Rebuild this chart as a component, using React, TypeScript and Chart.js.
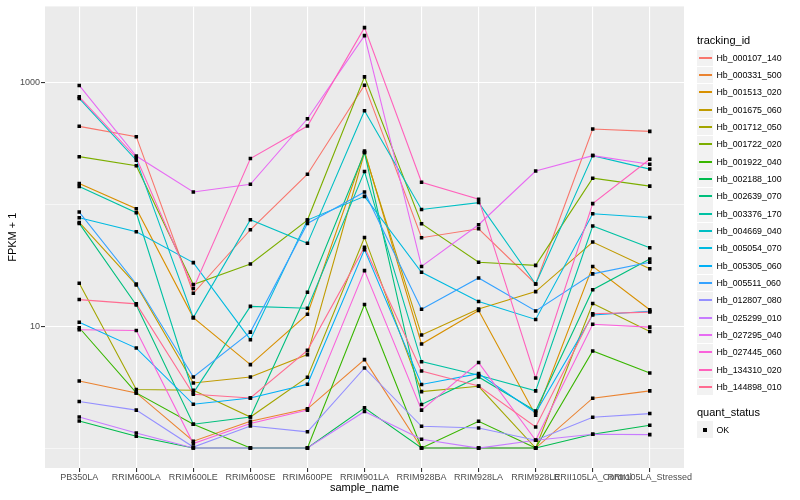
import React, { useEffect, useRef } from "react";
import { Chart, registerables } from "chart.js";

Chart.register(...registerables);

const FONT = '"Liberation Sans", Arial, Helvetica, sans-serif';

const categories = [
  "PB350LA", "RRIM600LA", "RRIM600LE", "RRIM600SE", "RRIM600PE", "RRIM901LA",
  "RRIM928BA", "RRIM928LA", "RRIM928LE", "RRII105LA_Control", "RRII105LA_Stressed",
];

const trackingIds = [
  "Hb_000107_140", "Hb_000331_500", "Hb_001513_020", "Hb_001675_060", "Hb_001712_050",
  "Hb_001722_020", "Hb_001922_040", "Hb_002188_100", "Hb_002639_070", "Hb_003376_170",
  "Hb_004669_040", "Hb_005054_070", "Hb_005305_060", "Hb_005511_060", "Hb_012807_080",
  "Hb_025299_010", "Hb_027295_040", "Hb_027445_060", "Hb_134310_020", "Hb_144898_010",
];

const seriesColors = [
  "#F8766D", "#EA8331", "#D89000", "#C09B00", "#A3A500",
  "#7CAE00", "#39B600", "#00BB4E", "#00BF7D", "#00C1A3",
  "#00BFC4", "#00BAE0", "#00B0F6", "#35A2FF", "#9590FF",
  "#C77CFF", "#E76BF3", "#FA62DB", "#FF62BC", "#FF6C91",
];

// FPKM + 1 values, one per sample_name
const hb_000107_140 = [440, 362, 18.7, 62.2, 178, 959, 53.5, 63.4, 22.3, 418, 400];
const hb_000331_500 = [3.56, 2.84, 1.14, 1.66, 2.1, 5.33, 1, 1, 1, 2.57, 2.95];
const hb_001513_020 = [149, 92.5, 11.8, 4.85, 12.6, 276, 7.15, 13.5, 1.86, 31.1, 13.7];
const hb_001675_060 = [71.4, 21.9, 3.43, 3.84, 5.86, 268, 8.48, 13.9, 19.3, 49.3, 29.8];
const hb_001712_050 = [22.6, 3.03, 2.99, 1.8, 3.82, 53.8, 2.91, 3.22, 1, 15.4, 9.09];
const hb_001722_020 = [248, 209, 22.1, 32.6, 74.7, 1122, 69.7, 33.6, 31.7, 165, 142];
const hb_001922_040 = [9.74, 2.84, 1.57, 1, 1, 15.1, 1, 1.66, 1, 6.27, 4.14];
const hb_002188_100 = [1.67, 1.25, 1, 1, 1, 2.14, 1, 1, 1, 1.3, 1.54];
const hb_002639_070 = [70.1, 15.0, 1.57, 1.8, 19.1, 268, 2.28, 3.84, 2.02, 20.0, 35.8];
const hb_003376_170 = [141, 85.8, 2.84, 14.6, 14.1, 187, 5.13, 3.96, 2.95, 66.7, 44.3];
const hb_004669_040 = [746, 232, 11.8, 75.2, 48.1, 591, 91.3, 104, 22.3, 253, 196];
const hb_005054_070 = [78.0, 60.0, 33.4, 7.77, 74.7, 117, 27.8, 16.0, 11.4, 84.2, 78.5];
const hb_005305_060 = [10.8, 6.63, 2.29, 2.58, 3.34, 42.7, 3.33, 4.09, 1.95, 12.4, 13.3];
const hb_005511_060 = [86.9, 22.3, 3.84, 8.97, 70.1, 127, 13.8, 25.0, 13.4, 27.0, 33.6];
const hb_012807_080 = [2.41, 2.05, 1.02, 1.52, 1.36, 4.55, 1.51, 1.46, 1.16, 1.79, 1.92];
const hb_025299_010 = [1.8, 1.33, 1, 1, 1, 2.0, 1.18, 1, 1.16, 1.3, 1.29];
const hb_027295_040 = [954, 251, 127, 147, 508, 2449, 31.1, 68.4, 189, 253, 215];
const hb_027445_060 = [9.38, 9.26, 1.09, 1.59, 2.05, 28.7, 2.05, 5.04, 1.16, 10.4, 9.86];
const hb_134310_020 = [769, 243, 20.5, 239, 443, 2849, 153, 111, 3.77, 102, 236];
const hb_144898_010 = [16.6, 15.3, 2.77, 2.58, 6.35, 44.6, 4.3, 3.24, 1.49, 12.7, 13.1];

const seriesValues = [
  hb_000107_140, hb_000331_500, hb_001513_020, hb_001675_060, hb_001712_050,
  hb_001722_020, hb_001922_040, hb_002188_100, hb_002639_070, hb_003376_170,
  hb_004669_040, hb_005054_070, hb_005305_060, hb_005511_060, hb_012807_080,
  hb_025299_010, hb_027295_040, hb_027445_060, hb_134310_020, hb_144898_010,
];

const yTickValues = [1, 10, 100, 1000];
const yTickLabels = ["", "10", "", "1000"];
const yMajor = [false, true, false, true];

const panelBg = {
  id: "panelBg",
  beforeDraw(chart: any) {
    const { ctx, chartArea } = chart;
    ctx.save();
    ctx.fillStyle = "#EBEBEB";
    ctx.fillRect(chartArea.left, chartArea.top, chartArea.right - chartArea.left, chartArea.bottom - chartArea.top);
    ctx.restore();
  },
};

function Legend() {
  const rowH = 17.33;
  const first = 57.7;
  const okY = 429.5;
  return (
    <>
      <div style={{ position: "absolute", left: 697, top: 33, height: 15, lineHeight: "15px", fontSize: 11, fontFamily: FONT, color: "#000", whiteSpace: "nowrap" }}>tracking_id</div>
      {trackingIds.map((id, i) => {
        const cy = first + i * rowH;
        return (
          <React.Fragment key={id}>
            <div style={{ position: "absolute", left: 697, top: cy - 8.2, width: 16.4, height: 16.4, background: "#F2F2F2" }} />
            <div style={{ position: "absolute", left: 699, top: Math.round(cy) - 1, width: 13, height: 1.6, background: seriesColors[i] }} />
            <div style={{ position: "absolute", left: 716.5, top: cy - 6, height: 12, lineHeight: "12px", fontSize: 8.8, fontFamily: FONT, color: "#000", whiteSpace: "nowrap" }}>{id}</div>
          </React.Fragment>
        );
      })}
      <div style={{ position: "absolute", left: 697, top: 404.5, height: 15, lineHeight: "15px", fontSize: 11, fontFamily: FONT, color: "#000", whiteSpace: "nowrap" }}>quant_status</div>
      <div style={{ position: "absolute", left: 697, top: okY - 8.2, width: 16.4, height: 16.4, background: "#F2F2F2" }} />
      <div style={{ position: "absolute", left: 703, top: 428, width: 4, height: 4, background: "#000" }} />
      <div style={{ position: "absolute", left: 716.5, top: okY - 6, height: 12, lineHeight: "12px", fontSize: 8.8, fontFamily: FONT, color: "#000", whiteSpace: "nowrap" }}>OK</div>
    </>
  );
}

export default function App() {
  const canvasRef = useRef<HTMLCanvasElement | null>(null);

  useEffect(() => {
    if (!canvasRef.current) return;
    const lineSets = seriesValues.map((vals, i) => ({
      type: "line" as const,
      label: trackingIds[i],
      data: vals.map((v, j) => ({ x: j, y: v })),
      borderColor: seriesColors[i],
      backgroundColor: seriesColors[i],
      borderWidth: 1.1,
      pointRadius: 0,
      fill: false,
      tension: 0,
      order: 100 - i,
    }));
    const pointSets = seriesValues.map((vals, i) => ({
      type: "line" as const,
      label: trackingIds[i] + " OK",
      data: vals.map((v, j) => ({ x: j, y: v })),
      showLine: false,
      pointStyle: "rect",
      pointRadius: 2.5,
      pointBorderWidth: 0,
      pointBackgroundColor: "#000000",
      pointBorderColor: "#000000",
      order: 0,
    }));

    const chart = new Chart(canvasRef.current, {
      type: "line",
      data: { datasets: [...lineSets, ...pointSets] as any },
      plugins: [panelBg],
      options: {
        animation: false,
        responsive: false,
        maintainAspectRatio: false,
        layout: { padding: { left: 0, right: 116, top: 5, bottom: 0 } },
        plugins: { legend: { display: false }, tooltip: { enabled: false } },
        scales: {
          x: {
            type: "linear",
            min: -0.6,
            max: 10.6,
            afterBuildTicks: (s: any) => {
              s.ticks = categories.map((_, i) => ({ value: i }));
            },
            afterFit: (s: any) => {
              s.height = 32;
            },
            ticks: {
              autoSkip: false,
              maxRotation: 0,
              minRotation: 0,
              padding: 0,
              color: "#4D4D4D",
              font: { size: 9, family: FONT },
              callback: (v: any) => categories[Math.round(Number(v))] ?? "",
            },
            grid: {
              color: "#FFFFFF",
              lineWidth: 1.1,
              tickColor: "#333333",
              tickLength: 4,
              tickWidth: 1.1,
            },
            border: { display: false },
            title: {
              display: true,
              text: "sample_name",
              color: "#000000",
              font: { size: 11, family: FONT },
              padding: { top: 0, bottom: 5 },
            },
          },
          y: {
            type: "logarithmic",
            min: 0.6859,
            max: 4256,
            afterBuildTicks: (s: any) => {
              s.ticks = yTickValues.map((v) => ({ value: v }));
            },
            afterFit: (s: any) => {
              s.width = 45;
            },
            ticks: {
              padding: 1,
              color: "#4D4D4D",
              font: { size: 9, family: FONT },
              callback: (v: any) => {
                const k = yTickValues.indexOf(Number(v));
                return k >= 0 ? yTickLabels[k] : "";
              },
            },
            grid: {
              color: "#FFFFFF",
              lineWidth: (c: any) => {
                const k = yTickValues.indexOf(c.tick ? c.tick.value : -1);
                return k >= 0 && yMajor[k] ? 1.1 : 0.55;
              },
              tickColor: (c: any) => {
                const k = yTickValues.indexOf(c.tick ? c.tick.value : -1);
                return k >= 0 && yMajor[k] ? "#333333" : "rgba(0,0,0,0)";
              },
              tickLength: 4,
              tickWidth: 1.1,
            },
            border: { display: false },
            title: {
              display: true,
              text: "FPKM + 1",
              color: "#000000",
              font: { size: 11, family: FONT },
              padding: { top: 6, bottom: 0 },
            },
          },
        },
      } as any,
    });
    return () => chart.destroy();
  }, []);

  return (
    <div style={{ position: "fixed", left: 0, top: 0, width: 800, height: 500, background: "#FFFFFF", overflow: "hidden" }}>
      <canvas ref={canvasRef} width={800} height={500} style={{ position: "absolute", left: 0, top: 0, width: 800, height: 500 }} />
      <Legend />
    </div>
  );
}
